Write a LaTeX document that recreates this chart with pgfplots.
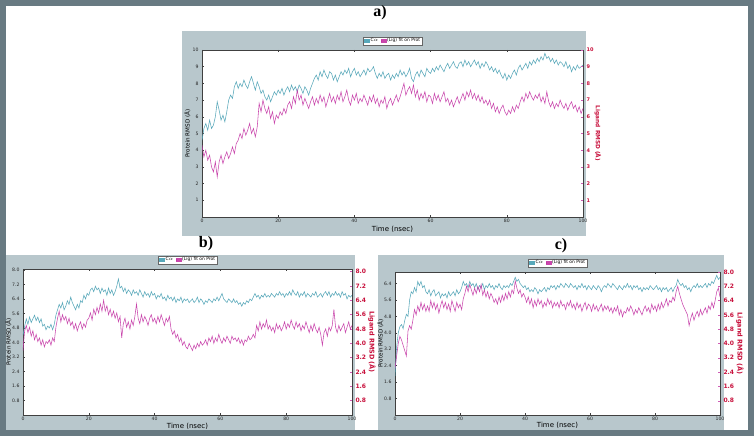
\documentclass[border=0pt]{standalone}
\usepackage{pgfplots}
\pgfplotsset{compat=1.18}
\usepackage{pgfplotstable}
\usepackage{fontspec}
\setmainfont{DejaVu Sans}
\newfontfamily\titlefont{Liberation Serif}

\definecolor{frameC}{RGB}{104,122,130}
\definecolor{panelC}{RGB}{184,199,204}
\definecolor{tealC}{RGB}{88,168,186}
\definecolor{magC}{RGB}{196,52,164}
\definecolor{crimC}{RGB}{200,16,60}

% ---------- panel a ----------
\pgfplotstableread[row sep=\\]{
y\\
4.6\\5.3\\5.6\\5.2\\5.8\\5.3\\5.5\\6.0\\6.9\\6.4\\
5.8\\6.1\\5.7\\6.3\\7.0\\7.3\\7.1\\7.8\\8.1\\7.7\\
8.0\\7.8\\8.2\\7.9\\7.7\\8.1\\8.4\\8.0\\7.6\\8.1\\
7.8\\7.4\\7.6\\7.2\\7.0\\7.3\\6.9\\7.2\\7.5\\7.3\\
7.6\\7.4\\7.7\\7.3\\7.6\\7.8\\7.5\\7.9\\7.6\\7.8\\
7.5\\7.9\\7.7\\7.4\\7.8\\7.6\\7.3\\7.7\\8.0\\8.3\\
8.5\\8.2\\8.7\\8.4\\8.8\\8.5\\8.3\\8.7\\8.6\\8.2\\
8.5\\8.1\\8.4\\8.7\\8.5\\8.8\\8.6\\8.9\\8.4\\8.7\\
8.9\\8.5\\8.7\\8.4\\8.6\\8.8\\8.5\\8.9\\8.7\\8.8\\
9.0\\8.6\\8.3\\8.6\\8.4\\8.7\\8.3\\8.5\\8.6\\8.2\\
8.5\\8.3\\8.6\\8.4\\8.8\\8.5\\8.7\\8.4\\8.6\\8.9\\
8.3\\8.1\\8.5\\8.7\\8.4\\8.8\\8.6\\8.4\\8.9\\8.7\\
8.6\\8.9\\8.7\\9.0\\8.8\\9.1\\8.9\\8.7\\9.0\\9.2\\
8.9\\9.1\\9.3\\9.0\\8.9\\9.2\\9.3\\9.0\\9.4\\9.1\\
9.3\\9.0\\9.2\\9.4\\9.1\\9.3\\8.9\\9.2\\9.0\\9.3\\
9.1\\8.8\\9.0\\8.7\\8.9\\8.6\\8.8\\8.5\\8.3\\8.6\\
8.2\\8.5\\8.3\\8.6\\8.8\\8.5\\8.9\\9.1\\8.8\\9.0\\
9.2\\8.9\\9.3\\9.1\\9.4\\9.2\\9.5\\9.3\\9.6\\9.4\\
9.8\\9.5\\9.6\\9.3\\9.5\\9.2\\9.4\\9.1\\9.3\\9.2\\
9.0\\9.3\\8.9\\9.1\\8.7\\9.0\\8.8\\9.1\\8.9\\9.0\\
9.1\\
}\aT
\pgfplotstableread[row sep=\\]{
y\\
4.3\\3.6\\4.0\\3.4\\3.7\\3.0\\2.7\\3.3\\2.4\\3.3\\
3.7\\3.2\\3.6\\3.9\\3.5\\3.8\\4.2\\3.8\\4.4\\4.6\\
5.0\\4.7\\5.3\\4.9\\5.2\\5.6\\5.0\\5.3\\4.8\\5.4\\
6.8\\6.3\\7.0\\6.5\\6.2\\6.6\\5.9\\6.3\\5.6\\6.1\\
5.9\\6.3\\6.1\\6.5\\6.2\\6.7\\6.9\\6.5\\7.2\\6.8\\
7.6\\7.0\\7.3\\6.7\\7.1\\6.8\\6.5\\6.9\\7.2\\6.7\\
7.1\\6.8\\7.3\\6.9\\7.2\\6.6\\7.0\\7.4\\6.9\\7.2\\
6.8\\7.3\\7.0\\7.5\\6.9\\7.2\\7.6\\7.0\\6.7\\7.3\\
7.0\\7.4\\6.8\\7.1\\6.9\\7.3\\7.0\\6.7\\7.2\\6.9\\
7.3\\6.8\\7.1\\6.6\\7.0\\6.8\\7.2\\6.5\\6.9\\7.1\\
6.7\\7.0\\7.3\\6.9\\7.2\\7.6\\8.0\\7.3\\7.6\\7.8\\
7.4\\7.9\\7.2\\7.6\\7.0\\7.4\\7.1\\7.5\\6.9\\7.3\\
7.2\\6.8\\7.4\\7.0\\7.3\\6.9\\7.2\\7.5\\6.9\\7.1\\
6.7\\7.0\\6.6\\6.9\\7.2\\6.8\\7.1\\7.4\\7.0\\7.5\\
7.2\\7.6\\7.1\\7.4\\7.0\\7.3\\6.9\\7.2\\6.8\\7.0\\
6.7\\7.0\\6.5\\6.8\\6.3\\6.6\\6.2\\6.5\\6.7\\6.3\\
6.1\\6.4\\6.2\\6.6\\6.3\\6.7\\6.5\\6.9\\7.2\\6.9\\
7.4\\7.1\\7.5\\7.2\\7.0\\7.3\\7.1\\7.4\\6.9\\7.2\\
6.8\\7.5\\6.9\\6.6\\6.9\\6.5\\6.8\\6.6\\7.0\\6.7\\
6.5\\6.8\\6.4\\6.7\\6.9\\6.5\\6.7\\6.3\\6.6\\6.2\\
6.5\\
}\aM
% ---------- panel b ----------
\pgfplotstableread[row sep=\\]{
y\\
4.4\\4.9\\5.3\\5.0\\5.4\\5.1\\5.3\\5.5\\5.2\\5.4\\
5.1\\5.3\\4.9\\5.0\\4.7\\4.9\\4.8\\5.0\\4.7\\5.0\\
5.5\\5.8\\6.1\\5.9\\6.2\\5.8\\6.0\\6.3\\6.1\\6.5\\
6.2\\6.0\\5.8\\6.1\\5.9\\6.3\\6.2\\6.6\\6.4\\6.7\\
6.6\\6.9\\7.0\\6.8\\7.1\\6.9\\7.0\\6.7\\7.0\\6.8\\
6.9\\6.6\\7.0\\6.7\\6.9\\6.6\\6.8\\7.1\\7.5\\7.0\\
7.1\\6.8\\7.0\\6.7\\6.9\\6.8\\6.6\\6.9\\6.7\\6.8\\
6.6\\6.9\\6.7\\6.5\\6.8\\6.6\\6.7\\6.5\\6.8\\6.6\\
6.7\\6.4\\6.6\\6.5\\6.7\\6.4\\6.5\\6.3\\6.6\\6.4\\
6.5\\6.3\\6.5\\6.2\\6.4\\6.3\\6.5\\6.2\\6.4\\6.3\\
6.4\\6.2\\6.3\\6.4\\6.2\\6.3\\6.5\\6.2\\6.4\\6.3\\
6.1\\6.3\\6.2\\6.4\\6.3\\6.2\\6.4\\6.3\\6.5\\6.3\\
6.5\\6.7\\6.4\\6.3\\6.2\\6.4\\6.3\\6.2\\6.4\\6.2\\
6.3\\6.1\\6.2\\6.0\\6.2\\6.1\\6.3\\6.2\\6.4\\6.3\\
6.5\\6.7\\6.5\\6.6\\6.4\\6.6\\6.5\\6.7\\6.5\\6.6\\
6.5\\6.7\\6.6\\6.5\\6.7\\6.6\\6.8\\6.6\\6.7\\6.5\\
6.7\\6.6\\6.8\\6.6\\6.9\\6.7\\6.6\\6.8\\6.5\\6.7\\
6.6\\6.8\\6.5\\6.7\\6.6\\6.5\\6.7\\6.6\\6.8\\6.5\\
6.6\\6.7\\6.5\\6.7\\6.8\\6.6\\6.8\\6.5\\6.7\\6.6\\
6.8\\6.6\\6.7\\6.5\\6.8\\6.6\\6.7\\6.4\\6.6\\6.5\\
6.6\\
}\bT
\pgfplotstableread[row sep=\\]{
y\\
3.6\\4.7\\5.0\\4.6\\4.9\\4.4\\4.7\\4.2\\4.5\\4.1\\
4.3\\3.9\\4.2\\3.8\\4.1\\4.0\\4.2\\3.9\\4.3\\4.1\\
4.9\\5.4\\5.8\\5.2\\5.6\\5.3\\5.5\\5.1\\5.4\\5.0\\
5.2\\4.8\\5.1\\4.7\\5.0\\5.2\\4.8\\5.1\\4.9\\5.3\\
5.4\\5.7\\5.3\\5.9\\5.6\\6.0\\5.7\\6.2\\5.8\\6.4\\
5.8\\6.1\\5.6\\5.9\\5.5\\5.8\\5.4\\5.7\\5.2\\5.5\\
4.3\\5.1\\5.4\\4.9\\5.2\\4.8\\5.3\\5.0\\5.5\\6.2\\
5.4\\5.1\\5.6\\5.2\\5.5\\5.3\\5.0\\5.4\\5.6\\5.2\\
5.4\\5.1\\5.5\\5.2\\5.6\\5.3\\5.0\\5.4\\5.2\\5.5\\
4.8\\4.5\\4.7\\4.3\\4.5\\4.1\\4.3\\3.9\\4.1\\3.8\\
3.7\\4.0\\3.8\\3.6\\3.9\\3.7\\4.0\\3.8\\4.1\\3.9\\
4.0\\4.2\\3.9\\4.3\\4.1\\4.4\\4.0\\4.3\\4.1\\4.5\\
4.2\\4.0\\4.3\\4.1\\4.4\\4.2\\4.0\\4.4\\4.2\\4.3\\
4.1\\4.3\\4.0\\4.2\\3.9\\4.2\\4.1\\4.4\\4.2\\4.3\\
4.5\\4.3\\5.0\\4.7\\5.2\\4.8\\5.1\\4.9\\5.3\\4.8\\
5.0\\4.7\\4.9\\4.6\\5.1\\4.8\\5.0\\4.7\\4.9\\5.2\\
4.8\\5.1\\4.9\\5.3\\5.0\\4.8\\5.2\\4.9\\5.1\\4.7\\
5.0\\4.8\\5.2\\4.9\\4.6\\5.0\\4.7\\5.1\\4.8\\4.6\\
4.9\\4.5\\3.9\\4.6\\4.8\\4.4\\4.9\\4.7\\5.0\\5.9\\
4.9\\4.6\\5.0\\4.7\\4.9\\5.1\\4.6\\4.9\\5.2\\4.8\\
5.0\\
}\bM
% ---------- panel c ----------
\pgfplotstableread[row sep=\\]{
y\\
1.9\\3.3\\4.0\\4.3\\4.4\\4.2\\4.6\\4.9\\4.8\\5.6\\
6.0\\5.9\\6.2\\6.0\\6.5\\6.3\\6.5\\6.2\\6.3\\6.0\\
5.9\\6.1\\5.8\\6.0\\6.1\\5.8\\5.9\\6.0\\5.7\\5.9\\
5.8\\5.9\\5.7\\6.0\\5.8\\5.9\\6.0\\5.8\\6.1\\5.9\\
6.0\\6.2\\6.5\\6.3\\6.4\\6.2\\6.5\\6.3\\6.4\\6.2\\
6.4\\6.1\\6.3\\6.2\\6.4\\6.1\\6.3\\6.2\\6.4\\6.2\\
6.3\\6.1\\6.3\\6.2\\6.4\\6.2\\6.1\\6.3\\6.2\\6.3\\
6.2\\6.4\\6.3\\6.5\\6.7\\6.5\\6.6\\6.4\\6.3\\6.2\\
6.3\\6.1\\6.2\\6.0\\6.1\\6.0\\6.2\\6.1\\5.9\\6.1\\
6.0\\6.1\\6.2\\6.0\\6.2\\6.1\\6.3\\6.2\\6.3\\6.1\\
6.3\\6.2\\6.4\\6.3\\6.2\\6.4\\6.3\\6.2\\6.4\\6.3\\
6.2\\6.3\\6.1\\6.3\\6.2\\6.4\\6.2\\6.3\\6.1\\6.3\\
6.2\\6.1\\6.3\\6.2\\6.1\\6.3\\6.2\\6.0\\6.2\\6.3\\
6.2\\6.4\\6.3\\6.2\\6.4\\6.3\\6.2\\6.1\\6.3\\6.2\\
6.1\\6.3\\6.2\\6.4\\6.2\\6.3\\6.1\\6.3\\6.2\\6.3\\
6.1\\6.2\\6.0\\6.2\\6.1\\6.2\\6.1\\6.3\\6.2\\6.1\\
6.2\\6.3\\6.1\\6.2\\6.0\\6.2\\6.1\\6.2\\6.0\\6.1\\
6.2\\6.0\\6.2\\6.3\\6.6\\6.4\\6.3\\6.4\\6.2\\6.3\\
6.1\\6.2\\6.0\\6.2\\6.3\\6.2\\6.4\\6.2\\6.3\\6.2\\
6.3\\6.4\\6.2\\6.4\\6.3\\6.5\\6.4\\6.6\\6.8\\6.6\\
6.7\\
}\cT
\pgfplotstableread[row sep=\\]{
y\\
2.6\\3.3\\4.0\\4.4\\4.2\\3.9\\3.6\\3.3\\4.7\\5.0\\
4.8\\5.3\\5.9\\5.6\\6.1\\5.8\\6.3\\5.9\\6.2\\5.8\\
6.1\\5.8\\6.4\\6.0\\6.3\\5.9\\6.2\\5.7\\6.1\\6.4\\
6.0\\6.3\\5.9\\6.2\\5.8\\6.4\\6.1\\5.8\\6.3\\6.0\\
6.2\\5.9\\6.5\\6.8\\7.2\\6.9\\7.3\\7.0\\6.7\\7.1\\
6.8\\7.2\\6.9\\7.3\\6.7\\7.0\\6.6\\6.9\\6.5\\6.8\\
6.6\\6.3\\6.5\\6.2\\6.6\\6.3\\6.7\\6.4\\6.8\\6.5\\
6.9\\6.6\\7.0\\6.8\\7.5\\7.1\\6.8\\7.0\\6.6\\6.8\\
6.6\\6.3\\6.6\\6.2\\6.5\\6.0\\6.4\\6.1\\6.5\\6.2\\
6.4\\6.0\\6.3\\6.1\\6.5\\6.2\\6.4\\6.0\\6.3\\6.1\\
6.3\\6.0\\6.4\\6.1\\6.2\\5.9\\6.3\\6.1\\6.4\\6.0\\
6.2\\5.9\\6.3\\6.0\\6.2\\5.8\\6.1\\6.3\\5.9\\6.2\\
6.1\\5.8\\6.2\\5.9\\6.1\\5.8\\6.0\\6.2\\5.8\\6.1\\
5.9\\6.1\\5.8\\6.0\\5.7\\6.0\\5.8\\6.1\\5.6\\5.9\\
5.5\\5.8\\5.7\\6.0\\5.8\\6.1\\5.9\\5.6\\5.9\\5.7\\
6.0\\5.8\\5.6\\5.9\\6.1\\5.8\\6.0\\5.7\\6.2\\5.9\\
6.1\\5.8\\6.2\\5.9\\6.3\\6.0\\6.2\\6.5\\6.1\\6.4\\
6.3\\6.6\\6.4\\6.9\\7.2\\6.8\\6.5\\6.2\\6.0\\5.8\\
5.6\\5.0\\5.4\\5.7\\5.3\\5.6\\5.8\\5.5\\5.9\\5.6\\
5.8\\6.0\\5.7\\6.1\\5.9\\6.3\\6.0\\6.4\\6.9\\7.1\\
6.6\\
}\cM

\pgfplotsset{
  base/.style={scale only axis, anchor=south west, xmin=0, xmax=100, ymin=0,
    /pgf/number format/assume math mode=true,
    axis line style={draw=black!75, line width=0.5pt},
    tick align=inside, major tick length=2pt,
    every tick/.style={black!75, line width=0.4pt},
    ticklabel style={font=\fontsize{4.6}{5}\selectfont, text=black!85},
    xtick={0,20,40,60,80,100},
    xticklabel style={yshift=1pt},
  },
  leftax/.style={base,
    axis background/.style={fill=white},
    ytick pos=left,
    xlabel={Time (nsec)}, ylabel={Protein RMSD (Å)},
    every axis x label/.style={at={([yshift=-#1]axis description cs:0.5,0)}, anchor=center, font=\fontsize{7}{8}\selectfont},
    every axis y label/.style={at={([xshift=-14.5pt]axis description cs:0,0.5)}, anchor=center, rotate=90, font=\fontsize{5.6}{7}\selectfont},
    legend style={at={(0.5,1)}, anchor=south, yshift=5pt, legend columns=2,
      font=\fontsize{4.4}{4.6}\selectfont, draw=black!60, fill=white,
      inner xsep=1pt, inner ysep=0.6pt,
      nodes={inner xsep=1pt, inner ysep=0.8pt},
      /tikz/every even column/.append style={column sep=1.5pt}},
    legend image code/.code={\fill[##1] (0pt,-1.4pt) rectangle (5pt,1.4pt);},
  },
  rightax/.style={base,
    axis y line*=right, axis x line=none,
    every tick/.style={magC!80, line width=0.4pt},
    yticklabel style={font=\bfseries\fontsize{#1}{6}\selectfont, text=crimC},
    ylabel={Ligand RMSD (Å)},
  },
  teal/.style={tealC, line width=0.55pt},
  mag/.style={magC, line width=0.55pt, opacity=0.9},
  dec/.style={yticklabel style={/pgf/number format/.cd, fixed, fixed zerofill, precision=1}},
}

\begin{document}
\begin{tikzpicture}[x=1pt,y=1pt]
\useasboundingbox (0,0) rectangle (756,437);
\fill[white] (0,0) rectangle (756,437);
% panels
\fill[panelC] (182,201) rectangle (586,406);
\fill[panelC] (6,7) rectangle (355,182);
\fill[panelC] (378,7) rectangle (724,182);
\draw[frameC, line width=5.5pt] (3,4) rectangle (751,434);

% titles
\node[font=\titlefont\bfseries\fontsize{16}{18}\selectfont] at (380,424) {a)};
\node[font=\titlefont\bfseries\fontsize{16}{18}\selectfont] at (206,193) {b)};
\node[font=\titlefont\bfseries\fontsize{16}{18}\selectfont] at (561,191) {c)};

% ===== panel a =====
\begin{axis}[leftax=12pt, at={(202pt,220pt)}, width=381pt, height=167pt,
  ymax=10, ytick={1,2,3,4,5,6,7,8,9,10}]
\addplot[teal] table[x expr=\coordindex*0.5, y=y] {\aT};
\addlegendentry{C$\alpha$}
\addlegendimage{mag}
\addlegendentry{(Lig) fit on Prot}
\end{axis}
\begin{axis}[rightax=5, at={(202pt,220pt)}, width=381pt, height=167pt,
  ymax=10, ytick={1,2,3,4,5,6,7,8,9,10},
  every axis y label/.style={at={([xshift=15pt]axis description cs:1,0.5)}, anchor=center, rotate=-90, font=\bfseries\fontsize{5.8}{7}\selectfont, text=crimC}]
\addplot[mag] table[x expr=\coordindex*0.5, y=y] {\aM};
\end{axis}

% ===== panel b =====
\begin{axis}[leftax=11pt, dec, at={(23pt,22pt)}, width=329pt, height=146pt,
  ymax=8.05, ytick={0.8,1.6,2.4,3.2,4.0,4.8,5.6,6.4,7.2,8.0}]
\addplot[teal] table[x expr=\coordindex*0.5, y=y] {\bT};
\addlegendentry{C$\alpha$}
\addlegendimage{mag}
\addlegendentry{(Lig) fit on Prot}
\end{axis}
\begin{axis}[rightax=6, dec, at={(23pt,22pt)}, width=329pt, height=146pt,
  ymax=8.15, ytick={0.8,1.6,2.4,3.2,4.0,4.8,5.6,6.4,7.2,8.0},
  every axis y label/.style={at={([xshift=20pt]axis description cs:1,0.5)}, anchor=center, rotate=-90, font=\bfseries\fontsize{6.5}{7}\selectfont, text=crimC}]
\addplot[mag] table[x expr=\coordindex*0.5, y=y] {\bM};
\end{axis}

% ===== panel c =====
\begin{axis}[leftax=10pt, dec, at={(395pt,22pt)}, width=325pt, height=143pt,
  ymax=6.96, ytick={0.8,1.6,2.4,3.2,4.0,4.8,5.6,6.4}]
\addplot[teal] table[x expr=\coordindex*0.5, y=y] {\cT};
\addlegendentry{C$\alpha$}
\addlegendimage{mag}
\addlegendentry{(Lig) fit on Prot}
\end{axis}
\begin{axis}[rightax=6, dec, at={(395pt,22pt)}, width=325pt, height=143pt,
  ymax=8.0, ytick={0.8,1.6,2.4,3.2,4.0,4.8,5.6,6.4,7.2,8.0},
  every axis y label/.style={at={([xshift=20pt]axis description cs:1,0.5)}, anchor=center, rotate=-90, font=\bfseries\fontsize{6.5}{7}\selectfont, text=crimC}]
\addplot[mag] table[x expr=\coordindex*0.5, y=y] {\cM};
\end{axis}
\end{tikzpicture}
\end{document}
